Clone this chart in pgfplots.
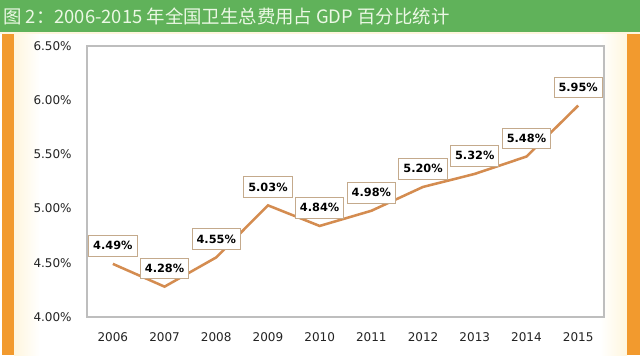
\documentclass[border=0pt]{standalone}
\usepackage{fontspec}
\usepackage{pgfplots}
\pgfplotsset{compat=1.18}
\setmainfont{DejaVu Sans}
\newfontfamily\cjk{Noto Sans CJK SC}
\definecolor{titlegreen}{RGB}{96,178,90}
\definecolor{sideorange}{RGB}{242,154,46}
\definecolor{cream}{RGB}{255,246,222}
\definecolor{linebrown}{RGB}{212,140,80}
\definecolor{boxborder}{RGB}{196,170,140}
\definecolor{axgray}{RGB}{190,190,190}
\definecolor{ticktext}{RGB}{35,35,35}
\definecolor{titletext}{RGB}{235,248,228}
\begin{document}
\begin{tikzpicture}[x=0.75pt,y=0.75pt]
\useasboundingbox (0,0) rectangle (640,355);
\fill[white] (0,0) rectangle (640,355);
\shade[left color=cream,right color=white] (14,0) rectangle (40,322);
\shade[left color=white,right color=cream] (600,0) rectangle (627,322);
\fill[sideorange] (2,0) rectangle (14,321);
\fill[sideorange] (627,0) rectangle (640,321);
\fill[cream] (0,321) rectangle (640,323);
\fill[titlegreen] (0,323) rectangle (640,355);
\node[anchor=west, text=titletext, inner sep=0pt, font=\cjk\fontsize{13.8}{16}\selectfont] at (3,339) {图 2：2006-2015 年全国卫生总费用占 GDP 百分比统计};
\begin{axis}[
  at={(65.25pt,28.5pt)}, anchor=south west,
  scale only axis, width=387.75pt, height=203.25pt,
  xmin=-0.5, xmax=9.5, ymin=4, ymax=6.5,
  xtick={0,...,9},
  xticklabels={2006,2007,2008,2009,2010,2011,2012,2013,2014,2015},
  ytick={4,4.5,5,5.5,6,6.5},
  yticklabels={4.00\%,4.50\%,5.00\%,5.50\%,6.00\%,6.50\%},
  major tick length=0pt,
  axis line style={draw=axgray, line width=1.3pt},
  tick label style={font=\fontsize{9}{10}\selectfont, text=ticktext},
  yticklabel style={xshift=-8pt},
  xticklabel style={yshift=-8pt},
  clip=false,
]
\addplot[draw=none, mark=none, point meta=explicit symbolic,
  nodes near coords,
  every node near coord/.append style={draw=boxborder, line width=0.7pt, fill=white,
    font=\bfseries\fontsize{8.5}{10}\selectfont, text=black, inner xsep=3.4pt, inner ysep=4.5pt,
    text height=6.2pt, text depth=0.3pt, anchor=south, yshift=5.5pt}]
coordinates {
(0,4.49) [4.49\%]
(1,4.28) [4.28\%]
(2,4.55) [4.55\%]
(3,5.03) [5.03\%]
(4,4.84) [4.84\%]
(5,4.98) [4.98\%]
(6,5.20) [5.20\%]
(7,5.32) [5.32\%]
(8,5.48) [5.48\%]
(9,5.95) [5.95\%]
};
\addplot[linebrown, line width=1.9pt, mark=none] coordinates {
(0,4.49) (1,4.28) (2,4.55) (3,5.03) (4,4.84) (5,4.98) (6,5.20) (7,5.32) (8,5.48) (9,5.95)
};
\end{axis}
\end{tikzpicture}
\end{document}
